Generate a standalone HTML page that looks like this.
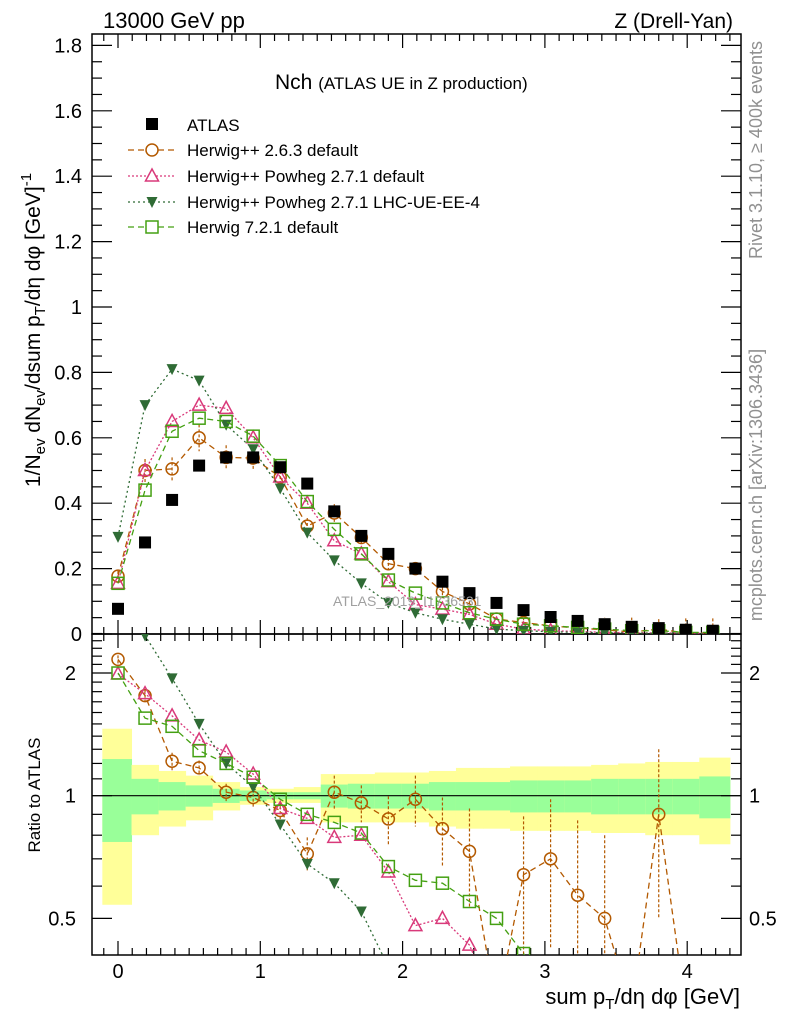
<!DOCTYPE html>
<html><head><meta charset="utf-8"><style>
html,body{margin:0;padding:0;background:#fff;width:786px;height:1024px;overflow:hidden;position:relative;}
svg{display:block;font-family:"Liberation Sans",sans-serif;}
</style></head><body>
<svg id="c" width="786" height="1024" style="position:absolute;left:0;top:0" xmlns="http://www.w3.org/2000/svg"></svg>
<script>
const xs=[0,0.19,0.38,0.57,0.76,0.95,1.14,1.33,1.52,1.71,1.9,2.09,2.28,2.47,2.66,2.85,3.04,3.23,3.42,3.61,3.8,3.99,4.18];
const atlas=[0.077,0.28,0.41,0.515,0.54,0.54,0.51,0.46,0.375,0.30,0.245,0.20,0.16,0.125,0.095,0.073,0.052,0.04,0.03,0.022,0.018,0.013,0.01];
const hw263=[0.177,0.50,0.505,0.60,0.54,0.538,0.48,0.33,0.37,0.295,0.215,0.20,0.13,0.092,0.046,0.035,0.025,0.018,0.013,0.006,0.015,0.003,0.003];
const powDef=[0.155,0.50,0.65,0.70,0.69,0.60,0.48,0.40,0.285,0.245,0.16,0.09,0.076,0.06,0.03,0.015,0.01,0.008,0.005,0.004,0.003,0.003,0.002];
const powUE=[0.297,0.70,0.81,0.775,0.64,0.565,0.445,0.31,0.225,0.155,0.095,0.065,0.045,0.03,0.015,0.01,0.007,0.005,0.004,0.003,0.002,0.002,0.001];
const hw721=[0.155,0.44,0.62,0.66,0.65,0.605,0.515,0.405,0.32,0.245,0.165,0.125,0.095,0.065,0.045,0.03,0.025,0.02,0.015,0.01,0.01,0.005,0.005];
const rHw263=[2.16,1.76,1.215,1.17,1.02,0.99,0.92,0.72,1.02,0.96,0.877,0.98,0.83,0.73,0.3,0.64,0.70,0.57,0.50,0.3,0.90,0.3,0.3];
const rHw263Err=[0.05,0.06,0.06,0.05,0.05,0.05,0.05,0.07,0.1,0.1,0.12,0.14,0.16,0.2,0,0.25,0.28,0.3,0.3,0,0.4,0,0];
const rPowDef=[1.99,1.78,1.57,1.37,1.28,1.13,0.93,0.88,0.79,0.80,0.65,0.48,0.50,0.43,0.3,0.3,0.3,0.3,0.3,0.3,0.3,0.3,0.3];
const rPowUE=[3.8,2.47,1.94,1.50,1.20,1.05,0.85,0.68,0.61,0.52,0.38,0.3,0.3,0.3,0.3,0.3,0.3,0.3,0.3,0.3,0.3,0.3,0.3];
const rHw721=[2.0,1.55,1.48,1.29,1.20,1.11,0.98,0.90,0.86,0.81,0.67,0.62,0.61,0.55,0.50,0.41,0.3,0.3,0.3,0.3,0.3,0.3,0.3];
const yHi=[1.46,1.19,1.15,1.12,1.08,1.05,1.04,1.05,1.13,1.13,1.14,1.14,1.15,1.17,1.17,1.18,1.18,1.18,1.19,1.20,1.21,1.21,1.24];
const yLo=[0.54,0.80,0.84,0.87,0.92,0.95,0.96,0.96,0.86,0.86,0.86,0.86,0.84,0.83,0.83,0.82,0.82,0.82,0.81,0.81,0.80,0.80,0.76];
const gHi=[1.23,1.10,1.08,1.06,1.04,1.03,1.02,1.02,1.065,1.07,1.07,1.07,1.08,1.08,1.08,1.09,1.09,1.09,1.10,1.10,1.10,1.10,1.115];
const gLo=[0.77,0.90,0.92,0.94,0.96,0.97,0.98,0.98,0.935,0.93,0.93,0.93,0.92,0.92,0.92,0.91,0.91,0.91,0.90,0.90,0.90,0.90,0.88];
const xTicks=[0,1,2,3,4];
const yTicks=[0,0.2,0.4,0.6,0.8,1,1.2,1.4,1.6,1.8];
const yTickLabels=["0","0.2","0.4","0.6","0.8","1","1.2","1.4","1.6","1.8"];
const rTicks=[0.5,1,2];
const rTickLabels=["0.5","1","2"];

const L=92,R=741,T=34,MB=634,RB=955;
const X=v=>118+142.3*v;
const Y=v=>634-327*v;
const RY=v=>795.7-177*Math.log(v);
const NS="http://www.w3.org/2000/svg";
const svg=document.getElementById('c');
function el(tag,attrs,parent){const e=document.createElementNS(NS,tag);for(const k in attrs)e.setAttribute(k,attrs[k]);(parent||svg).appendChild(e);return e;}
function txt(s,attrs,parent){const e=el('text',attrs,parent);e.textContent=s;return e;}

const defs=el('defs',{});
const cp1=el('clipPath',{id:'cm'},defs);el('rect',{x:L,y:T,width:R-L,height:MB-T},cp1);
const cp2=el('clipPath',{id:'cr'},defs);el('rect',{x:L,y:MB,width:R-L,height:RB-MB},cp2);

const bands=el('g',{'clip-path':'url(#cr)'});


function edges(i){const a=i===0?-0.11:(xs[i-1]+xs[i])/2;const b=i===xs.length-1?4.30:(xs[i]+xs[i+1])/2;return [X(a),X(b)];}
for(let i=0;i<xs.length;i++){const [a,b]=edges(i);
 const r1=el('rect',{x:a,y:RY(yHi[i]),width:b-a+0.5,height:RY(yLo[i])-RY(yHi[i]),fill:'#ffff99'},bands);
 
 
 const r2=el('rect',{x:a,y:RY(gHi[i]),width:b-a+0.5,height:RY(gLo[i])-RY(gHi[i]),fill:'#99ff99'},bands);
 
 
}
el('line',{x1:L,x2:R,y1:RY(1),y2:RY(1),stroke:'#000','stroke-width':1.2});

el('rect',{x:L,y:T,width:R-L,height:MB-T,fill:'none',stroke:'#000','stroke-width':1.5});
el('rect',{x:L,y:MB,width:R-L,height:RB-MB,fill:'none',stroke:'#000','stroke-width':1.5});
const tk=el('g',{stroke:'#000','stroke-width':1.2});
for(let v=-0.1;v<=4.35;v+=0.1){const mv=Math.round(v*10)/10;const major=Math.abs(mv-Math.round(mv))<1e-6;const len=major?14:7;const x=X(mv);
 el('line',{x1:x,x2:x,y1:T,y2:T+len},tk);el('line',{x1:x,x2:x,y1:MB,y2:MB-len},tk);
 el('line',{x1:x,x2:x,y1:MB,y2:MB+len},tk);el('line',{x1:x,x2:x,y1:RB,y2:RB-len},tk);}
for(let v=0;v<=1.82;v+=0.05){const mv=Math.round(v*100)/100;const major=Math.abs(mv*5-Math.round(mv*5))<1e-6;const len=major?20:10;const y=Y(mv);
 el('line',{x1:L,x2:L+len,y1:y,y2:y},tk);el('line',{x1:R,x2:R-len,y1:y,y2:y},tk);}
const rminor=[0.5,0.6,0.7,0.8,0.9,1,1.1,1.2,1.3,1.4,1.5,1.6,1.7,1.8,1.9,2,2.1,2.2,2.3,2.4,2.5];
rminor.forEach(v=>{const major=rTicks.includes(v);const len=major?20:10;const y=RY(v);
 el('line',{x1:L,x2:L+len,y1:y,y2:y},tk);el('line',{x1:R,x2:R-len,y1:y,y2:y},tk);});

yTicks.forEach((v,i)=>{const t=txt(yTickLabels[i],{x:82,y:Y(v)+7,'text-anchor':'end','font-size':20});
 });
rTicks.forEach((v,i)=>{const t=txt(rTickLabels[i],{x:76,y:RY(v)+7,'text-anchor':'end','font-size':20});
 
 const t2=txt(rTickLabels[i],{x:749,y:RY(v)+7,'text-anchor':'start','font-size':20});
 });
xTicks.forEach(v=>{const t=txt(String(v),{x:X(v),y:978,'text-anchor':'middle','font-size':20});
 });

const series=[
 {name:'herwig-2-6-3',main:hw263,ratio:rHw263,color:'#b35900',dash:'6,4',marker:'circle'},
 {name:'powheg-default',main:powDef,ratio:rPowDef,color:'#d9397a',dash:'2,2',marker:'tri'},
 {name:'powheg-lhc-ue',main:powUE,ratio:rPowUE,color:'#2f6b35',dash:'2,3',marker:'tridown'},
 {name:'herwig-7-2-1',main:hw721,ratio:rHw721,color:'#44a012',dash:'6,4',marker:'square'}
];
function marker(g,type,x,y,c){
 if(type==='circle')return el('circle',{cx:x,cy:y,r:6,fill:'none',stroke:c,'stroke-width':1.5},g);
 if(type==='square')return el('rect',{x:x-6,y:y-6,width:12,height:12,fill:'none',stroke:c,'stroke-width':1.5},g);
 if(type==='tri')return el('polygon',{points:`${x},${y-7} ${x-6.5},${y+5} ${x+6.5},${y+5}`,fill:'none',stroke:c,'stroke-width':1.5},g);
 if(type==='tridown')return el('polygon',{points:`${x-5.5},${y-5} ${x+5.5},${y-5} ${x},${y+6}`,fill:c},g);
}
function drawSeries(vals,yf,clip,s,errs){
 const g=el('g',{'clip-path':clip});
 
 
 el('polyline',{points:vals.map((v,i)=>X(xs[i])+','+yf(v)).join(' '),fill:'none',stroke:s.color,'stroke-width':1.3,'stroke-dasharray':s.dash},g);
 vals.forEach((v,i)=>{const x=X(xs[i]),y=yf(v);
  if(errs&&errs[i]>0){el('line',{x1:x,x2:x,y1:yf(v+errs[i]),y2:yf(Math.max(v-errs[i],0.05)),stroke:s.color,'stroke-width':1.2,'stroke-dasharray':'3,2'},g);}
  const m=marker(g,s.marker,x,y,s.color);
  
  });
}
series.forEach(s=>{
 drawSeries(s.main,Y,'url(#cm)',s,s.marker==='circle'?s.main.map(v=>v*0.06+0.005):null);
 drawSeries(s.ratio,RY,'url(#cr)',s,s.marker==='circle'?rHw263Err:null);
});
const ag=el('g',{'clip-path':'url(#cm)'});


atlas.forEach((v,i)=>{const r=el('rect',{x:X(xs[i])-6,y:Y(v)-6,width:12,height:12,fill:'#000'},ag);
 
 });
</script>
<svg width="786" height="1024" style="position:absolute;left:0;top:0;font-family:'Liberation Sans',sans-serif" xmlns="http://www.w3.org/2000/svg">
<text x="333" y="606" font-size="14" fill="#a0a0a0">ATLAS_2019_I1736531</text>
<text x="103" y="28" font-size="22">13000 GeV pp</text>
<text x="733" y="28" font-size="21" text-anchor="end">Z (Drell-Yan)</text>
<text x="275" y="89" font-size="21">Nch <tspan font-size="17">(ATLAS UE in Z production)</tspan></text>
<g font-size="17">
 <rect x="146" y="118" width="12" height="12" fill="#000"/>
 <text x="187" y="131">ATLAS</text>
 <line x1="128" x2="175" y1="150" y2="150" stroke="#b35900" stroke-width="1.3" stroke-dasharray="6,4"/>
 <circle cx="152" cy="150" r="6" fill="#fff" stroke="#b35900" stroke-width="1.5"/>
 <text x="187" y="156">Herwig++ 2.6.3 default</text>
 <line x1="128" x2="175" y1="176" y2="176" stroke="#d9397a" stroke-width="1.3" stroke-dasharray="2,2"/>
 <polygon points="152,169 145.5,181 158.5,181" fill="#fff" stroke="#d9397a" stroke-width="1.5"/>
 <text x="187" y="182">Herwig++ Powheg 2.7.1 default</text>
 <line x1="128" x2="175" y1="202" y2="202" stroke="#2f6b35" stroke-width="1.3" stroke-dasharray="2,3"/>
 <polygon points="146.5,197 157.5,197 152,208" fill="#2f6b35"/>
 <text x="187" y="208">Herwig++ Powheg 2.7.1 LHC-UE-EE-4</text>
 <line x1="128" x2="175" y1="227" y2="227" stroke="#44a012" stroke-width="1.3" stroke-dasharray="6,4"/>
 <rect x="146" y="221" width="12" height="12" fill="#fff" stroke="#44a012" stroke-width="1.5"/>
 <text x="187" y="233">Herwig 7.2.1 default</text>
</g>
<text transform="translate(40,330) rotate(-90)" font-size="21" text-anchor="middle">1/N<tspan font-size="15" dy="5">ev</tspan><tspan dy="-5"> dN</tspan><tspan font-size="15" dy="5">ev</tspan><tspan dy="-5">/dsum p</tspan><tspan font-size="15" dy="5">T</tspan><tspan dy="-5">/dη dφ  [GeV]</tspan><tspan font-size="15" dy="-9">-1</tspan></text>
<text transform="translate(40,795) rotate(-90)" font-size="17" text-anchor="middle">Ratio to ATLAS</text>
<text x="740" y="1004" font-size="22" text-anchor="end">sum p<tspan font-size="15" dy="5">T</tspan><tspan dy="-5">/dη dφ [GeV]</tspan></text>
<text transform="translate(762,150) rotate(-90)" font-size="18" fill="#909090" text-anchor="middle">Rivet 3.1.10, ≥ 400k events</text>
<text transform="translate(762,485) rotate(-90)" font-size="18" fill="#909090" text-anchor="middle">mcplots.cern.ch [arXiv:1306.3436]</text>
</svg>
</body></html>
